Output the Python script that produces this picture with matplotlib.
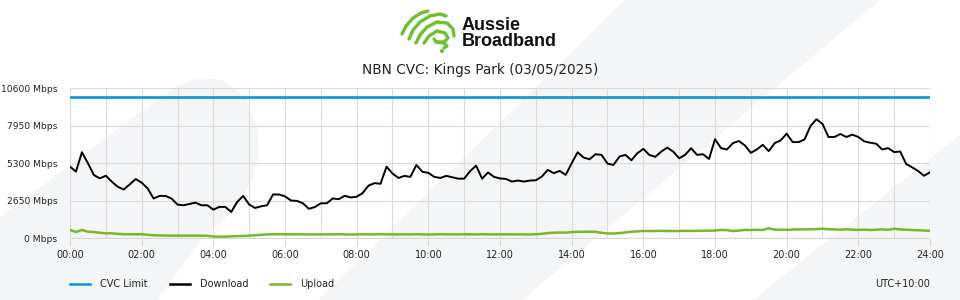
import numpy as np
import matplotlib
matplotlib.use("Agg")
import matplotlib.pyplot as plt
from matplotlib.patches import Polygon, Circle

# 10-minute samples, 00:00 .. 24:00
download = [5060, 4710, 6080, 5300, 4470, 4235, 4420, 4000, 3640, 3455,
            3810, 4190, 3930, 3525, 2815, 3000, 3000, 2815, 2390, 2340,
            2430, 2530, 2340, 2340, 2035, 2225, 2225, 1870, 2580, 3000,
            2390, 2150, 2270, 2340, 3100, 3100, 2970, 2675, 2650, 2480,
            2095, 2215, 2480, 2480, 2820, 2770, 3010, 2890, 2940, 3200,
            3730, 3900, 3855, 5060, 4580, 4265, 4410, 4340, 5180, 4700,
            4625, 4340, 4265, 4410, 4310, 4215, 4215, 4750, 5130, 4215,
            4650, 4340, 4230, 4195, 4010, 4080, 4010, 4080, 4100, 4360,
            4830, 4600, 4760, 4480, 5300, 6075, 5700, 5580, 5935, 5890,
            5275, 5180, 5770, 5890, 5510, 6005, 6310, 5890, 5750, 6120,
            6400, 6120, 5650, 5890, 6360, 5890, 5935, 5600, 7000, 6365,
            6270, 6720, 6865, 6555, 6035, 6270, 6600, 6150, 6720, 6910,
            7385, 6790, 6790, 6980, 7930, 8400, 8070, 7150, 7150, 7360,
            7150, 7315, 7150, 6840, 6745, 6675, 6270, 6365, 6080, 6130,
            5250, 5015, 4755, 4420, 4660]

upload = [600, 460, 600, 480, 460, 400, 365, 365, 330, 300,
          295, 295, 300, 260, 225, 220, 210, 200, 200, 200,
          200, 200, 200, 190, 140, 130, 130, 150, 175, 175,
          200, 230, 260, 290, 295, 300, 295, 290, 295, 290,
          290, 290, 285, 290, 290, 300, 290, 280, 290, 300,
          290, 290, 300, 290, 290, 295, 290, 290, 300, 290,
          280, 290, 300, 290, 290, 290, 300, 290, 290, 300,
          290, 295, 290, 295, 290, 295, 290, 280, 300, 330,
          380, 410, 420, 410, 450, 480, 470, 480, 470, 400,
          360, 350, 380, 430, 480, 500, 530, 520, 530, 540,
          530, 520, 530, 540, 530, 540, 550, 550, 560, 600,
          590, 520, 560, 600, 600, 610, 600, 720, 620, 620,
          610, 630, 640, 640, 650, 660, 690, 650, 640, 620,
          650, 620, 610, 620, 600, 620, 640, 610, 690, 640,
          620, 600, 580, 560, 540]

cvc_limit = 10000
hours = np.arange(len(download)) / 6.0

y_ticks = [0, 2650, 5300, 7950, 10600]
x_ticks = list(range(0, 25, 2))
x_labels = [f"{h:02d}:00" for h in x_ticks]

BLUE = "#0a96d6"
GREEN = "#77b82a"
LOGO_GREEN = "#6cc12c"
WATERMARK = "#f4f5f7"

fig = plt.figure(figsize=(9.6, 3.0), dpi=100)
fig.patch.set_facecolor("white")

# background layer in pixel coordinates
bg = fig.add_axes([0, 0, 1, 1])
bg.set_xlim(0, 960)
bg.set_ylim(300, 0)
bg.axis("off")
bg.set_zorder(0)

blob = [(0, 300), (0, 217), (50, 180), (100, 142), (141, 112), (170, 90),
        (196, 78), (222, 80), (245, 97), (257, 125), (259, 155), (250, 185),
        (230, 214), (200, 242), (157, 300)]
bg.add_patch(Polygon(blob, closed=True, color=WATERMARK, lw=0))
bg.add_patch(Polygon([(318, 300), (625, 0), (880, 0), (522, 300)],
                     closed=True, color=WATERMARK, lw=0))
bg.add_patch(Polygon([(753, 300), (960, 135), (960, 300)],
                     closed=True, color=WATERMARK, lw=0))

# logo
strokes = [
    [(402, 34), (406, 26), (413, 18), (421, 13), (428, 11)],
    [(409, 39), (413, 30), (420, 22), (430, 16), (440, 14), (446, 16)],
    [(416, 43), (420, 35), (427, 27), (437, 22), (447, 23), (453, 29), (454, 36)],
    [(424, 43), (429, 36), (437, 31), (445, 33), (448, 38), (444, 42), (436, 42),
     (434, 39)],
    [(436, 42), (444, 43), (447, 46), (444, 48)],
]
for s in strokes:
    xs, ys = zip(*s)
    bg.plot(xs, ys, color=LOGO_GREEN, lw=2.4, solid_capstyle="round",
            solid_joinstyle="round")
bg.add_patch(Circle((442, 51), 2.0, color=LOGO_GREEN, lw=0))
bg.text(462, 25, "Aussie", fontsize=13, fontweight="bold",
        family="Liberation Sans", va="center", ha="left", color="#111111")
bg.text(462, 41, "Broadband", fontsize=13, fontweight="bold",
        family="Liberation Sans", va="center", ha="left", color="#111111")

bg.text(480, 70, "NBN CVC: Kings Park (03/05/2025)", fontsize=9.8,
        ha="center", va="center", color="#222222")

# legend
legend_items = [("CVC Limit", BLUE, 70), ("Download", "black", 170),
                ("Upload", GREEN, 270)]
for label, col, x0 in legend_items:
    bg.plot([x0, x0 + 20], [284, 284], color=col, lw=1.8)
    bg.text(x0 + 30, 284, label, fontsize=7, va="center", ha="left",
            color="#222222")
bg.text(930, 284, "UTC+10:00", fontsize=7, va="center", ha="right",
        color="#222222")

# main chart
ax = fig.add_axes([70 / 960, 61.5 / 300, 860 / 960, 150.5 / 300])
ax.set_zorder(1)
ax.patch.set_alpha(0)

ax.axhline(cvc_limit, color=BLUE, lw=1.9, zorder=3)
ax.plot(hours, download, color="black", lw=1.4, zorder=4)
ax.plot(hours, upload, color=GREEN, lw=1.8, zorder=3)

ax.set_xlim(0, 24)
ax.set_ylim(0, 10600)
ax.set_yticks(y_ticks)
ax.set_yticklabels([f"{v} Mbps" for v in y_ticks], fontsize=6.6, color="#222222")
ax.set_xticks(x_ticks)
ax.set_xticklabels(x_labels, fontsize=7, color="#222222")
ax.set_xticks(range(0, 25), minor=True)

ax.grid(True, which="both", axis="x", color="#dadada", lw=0.8)
ax.grid(True, which="major", axis="y", color="#dadada", lw=0.8)
ax.axhline(0, color="#d6d6d6", lw=1.6, zorder=2)

for spine in ax.spines.values():
    spine.set_visible(False)

ax.tick_params(axis="y", left=False, pad=5.5)
ax.tick_params(axis="x", which="major", length=5, color="#d6d6d6", pad=3)
ax.tick_params(axis="x", which="minor", length=0)

plt.savefig("out.png", dpi=100)
